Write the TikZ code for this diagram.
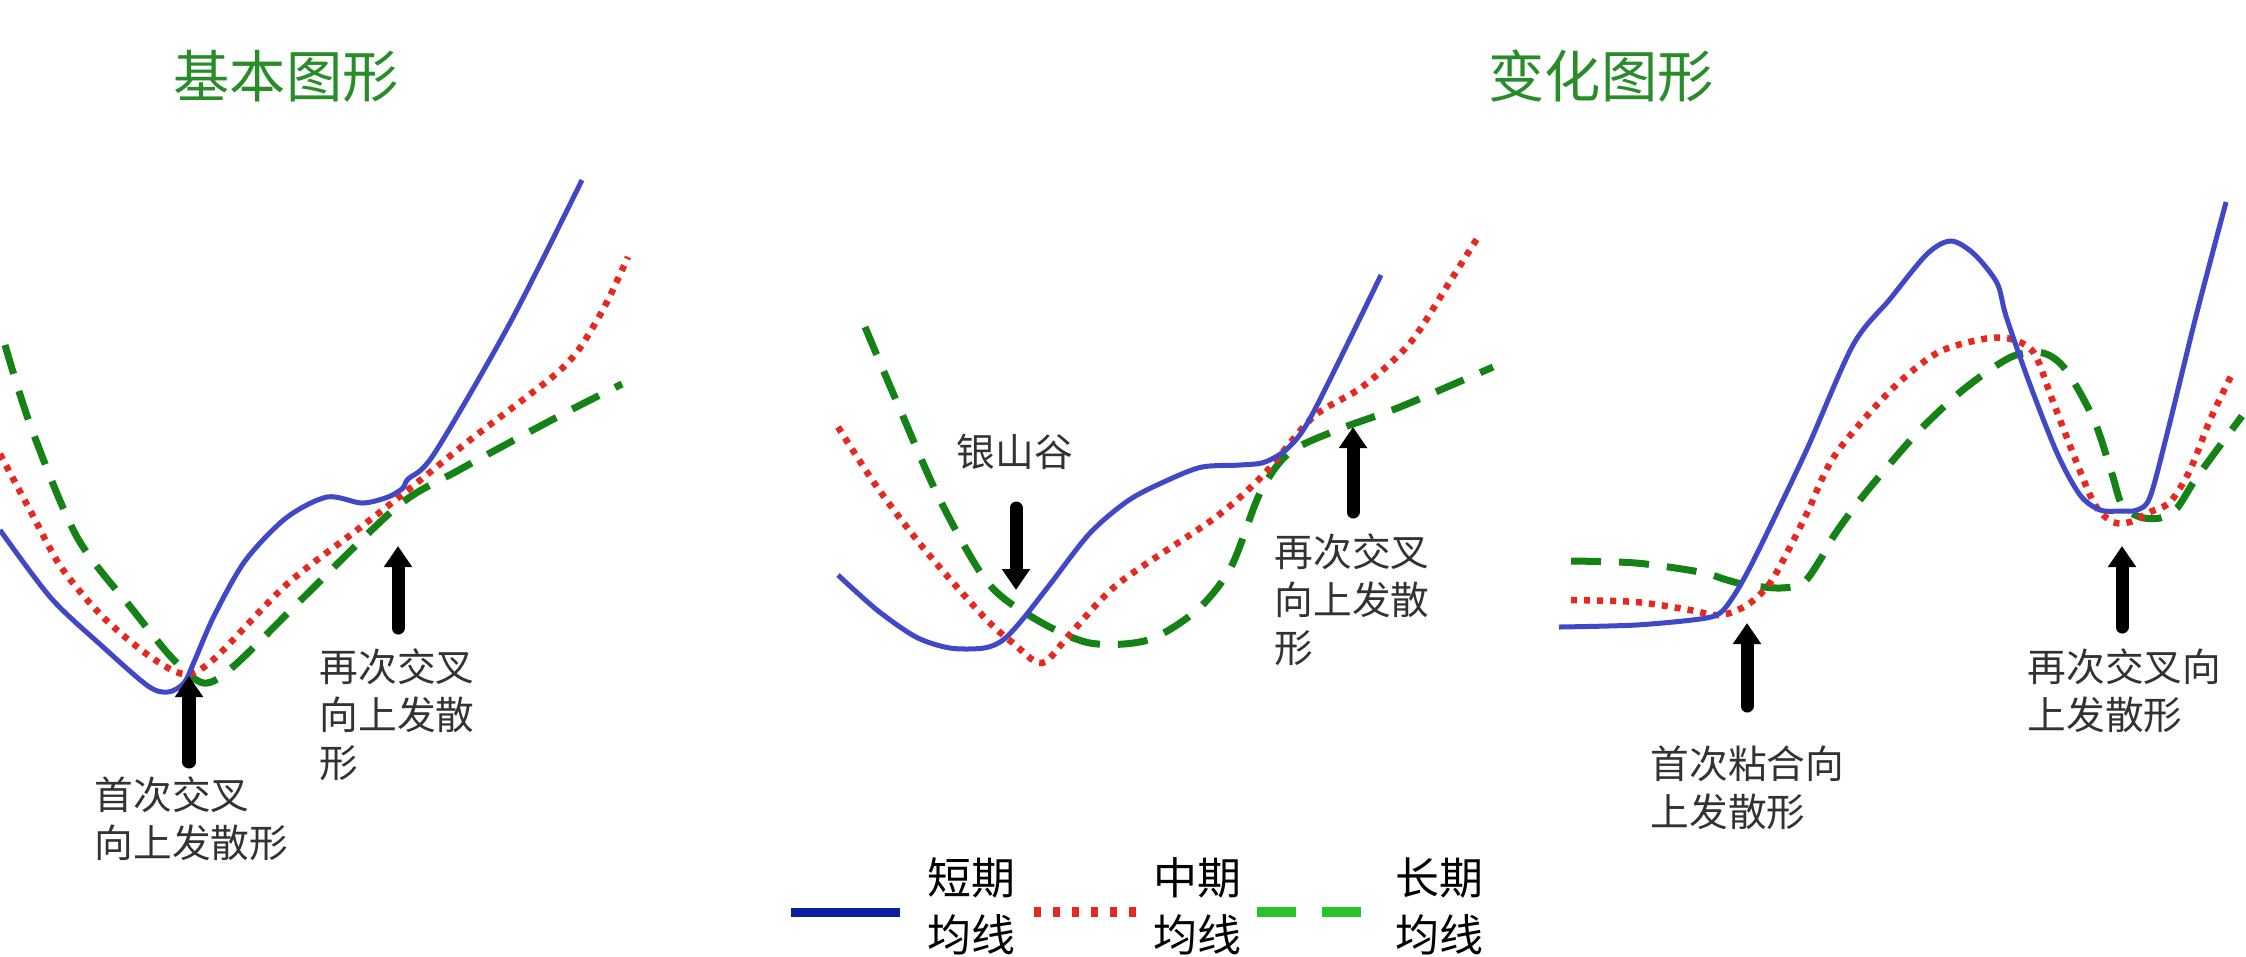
\documentclass[tikz,border=0pt]{standalone}
\usepackage{fontspec}
\setmainfont{Noto Sans CJK SC}
\usetikzlibrary{arrows.meta}

\definecolor{shortblue}{RGB}{64,72,200}
\definecolor{midred}{RGB}{232,40,30}
\definecolor{longgreen}{RGB}{20,130,20}
\definecolor{legblue}{RGB}{10,30,165}
\definecolor{leggreen}{RGB}{40,195,40}
\definecolor{titlegreen}{RGB}{40,140,40}
\definecolor{notegray}{RGB}{50,50,50}

\begin{document}
\begin{tikzpicture}[x=0.01cm, y=-0.01cm,
  shortma/.style={shortblue, line width=0.05cm, line join=round},
  midma/.style={midred, line width=0.065cm, dash pattern=on 0.06cm off 0.07cm},
  longma/.style={longgreen, line width=0.07cm, dash pattern=on 0.3cm off 0.18cm},
  signal/.style={line width=0.13cm, line cap=round, -{Triangle[width=0.27cm,length=0.21cm]}},
  note/.style={text=notegray, font=\fontsize{11}{13.7}\selectfont, align=left, inner sep=0pt, anchor=north west},
  heading/.style={text=titlegreen, font=\fontsize{16}{18}\selectfont, inner sep=0pt},
  legtext/.style={font=\fontsize{12.5}{16.2}\selectfont, align=left, inner sep=0pt, anchor=north west}]

  \useasboundingbox (0,0) rectangle (2246,956);

  % === Titles ===
  \node[heading] (basic) at (286,76) {基本图形};
  \node[heading] (variant) at (1601,76) {变化图形};

  % === Panel 1: basic pattern ===
  \draw[longma] plot[smooth] coordinates {(5,345) (31,427) (77,537) (133,610) (173,659) (204,683)
    (235,665) (306,595) (398,506) (459,470) (561,415) (622,384)};
  \draw[midma] plot[smooth] coordinates {(0,454) (31,512) (61,567) (102,616) (148,655) (184,674)
    (214,659) (286,585) (357,530) (403,494) (470,440) (520,402) (557,373) (577,352) (593,327)
    (608,300) (628,257)};
  \draw[shortma] plot[smooth] coordinates {(0,530) (51,598) (102,646) (148,686) (168,692) (184,683)
    (194,662) (214,616) (245,561) (286,518) (327,497) (362,503) (388,497) (403,488) (408,479)
    (434,454) (510,323) (582,180)};

  \coordinate (firsttail) at (189,762);
  \coordinate (firsttip) at (189,676);
  \draw[signal] (firsttail) -- (firsttip);
  \node[note] (firstnote) at (94,776) {首次交叉\\向上发散形};

  \coordinate (againtail) at (398,628);
  \coordinate (againtip) at (398,546);
  \draw[signal] (againtail) -- (againtip);
  \node[note] (againnote) at (319,648) {再次交叉\\向上发散\\形};

  % === Panel 2: silver valley ===
  \draw[longma] plot[smooth] coordinates {(865,327) (896,400) (940,500) (988,583) (1037,620) (1090,643)
    (1148,640) (1197,610) (1231,567) (1260,493) (1289,453) (1337,430) (1400,407) (1493,367)};
  \draw[midma] plot[smooth] coordinates {(838,427) (877,487) (925,550) (984,617) (1013,643) (1042,663)
    (1071,633) (1119,583) (1216,517) (1265,473) (1313,417) (1362,387) (1410,343) (1449,283) (1478,237)};
  \draw[shortma] plot[smooth] coordinates {(838,575) (877,610) (916,637) (950,648) (984,648) (1003,640)
    (1022,620) (1051,583) (1090,533) (1129,500) (1168,480) (1202,467) (1240,465) (1265,462)
    (1289,447) (1313,413) (1381,275)};

  \node[note, anchor=center] (valleynote) at (1015,452) {银山谷};
  \coordinate (valleytail) at (1016,508);
  \coordinate (valleytip) at (1016,590);
  \draw[signal] (valleytail) -- (valleytip);

  \coordinate (crosstail) at (1353,512);
  \coordinate (crosstip) at (1353,427);
  \draw[signal] (crosstail) -- (crosstip);
  \node[note] (crossnote) at (1274,533) {再次交叉\\向上发散\\形};

  % === Panel 3: glued then diverging ===
  \draw[longma] plot[smooth] coordinates {(1571,561) (1636,563) (1700,572) (1727,580) (1747,585)
    (1780,588) (1803,583) (1820,560) (1833,537) (1850,513) (1872,485) (1918,432) (1964,389)
    (2011,357) (2043,353) (2066,370) (2094,420) (2112,474) (2122,505) (2140,517) (2160,518)
    (2177,508) (2197,477) (2242,416)};
  \draw[midma] plot[smooth] coordinates {(1571,600) (1636,602) (1690,610) (1713,615) (1730,613)
    (1750,603) (1770,583) (1790,547) (1807,513) (1835,455) (1890,391) (1937,353) (1983,339)
    (2011,339) (2034,353) (2052,399) (2076,461) (2095,505) (2113,522) (2130,522) (2150,512)
    (2170,502) (2190,470) (2210,420) (2231,376)};
  \draw[shortma] plot[smooth] coordinates {(1559,627) (1636,625) (1700,619) (1720,613) (1733,597)
    (1747,573) (1767,533) (1807,449) (1853,345) (1890,299) (1927,254) (1951,241)
    (1974,254) (1997,283) (2006,316) (2029,382) (2057,453) (2080,495) (2100,510) (2120,511)
    (2137,510) (2150,497) (2168,430) (2196,316) (2226,202)};

  \coordinate (gluetail) at (1747,706);
  \coordinate (gluetip) at (1747,623);
  \draw[signal] (gluetail) -- (gluetip);
  \node[note] (gluenote) at (1650,745) {首次粘合向\\上发散形};

  \coordinate (secondtail) at (2122,627);
  \coordinate (secondtip) at (2122,546);
  \draw[signal] (secondtail) -- (secondtip);
  \node[note] (secondnote) at (2027,648) {再次交叉向\\上发散形};

  % === Legend ===
  \draw[legblue, line width=0.09cm] (791,912) -- (900,912);
  \node[legtext] (shortkey) at (927,857) {短期\\均线};
  \draw[midred, line width=0.1cm, dash pattern=on 0.07cm off 0.12cm] (1034,912) -- (1136,912);
  \node[legtext] (midkey) at (1153,857) {中期\\均线};
  \draw[leggreen, line width=0.1cm, dash pattern=on 0.39cm off 0.26cm] (1257,912) -- (1361,912);
  \node[legtext] (longkey) at (1395,857) {长期\\均线};

\end{tikzpicture}
\end{document}
